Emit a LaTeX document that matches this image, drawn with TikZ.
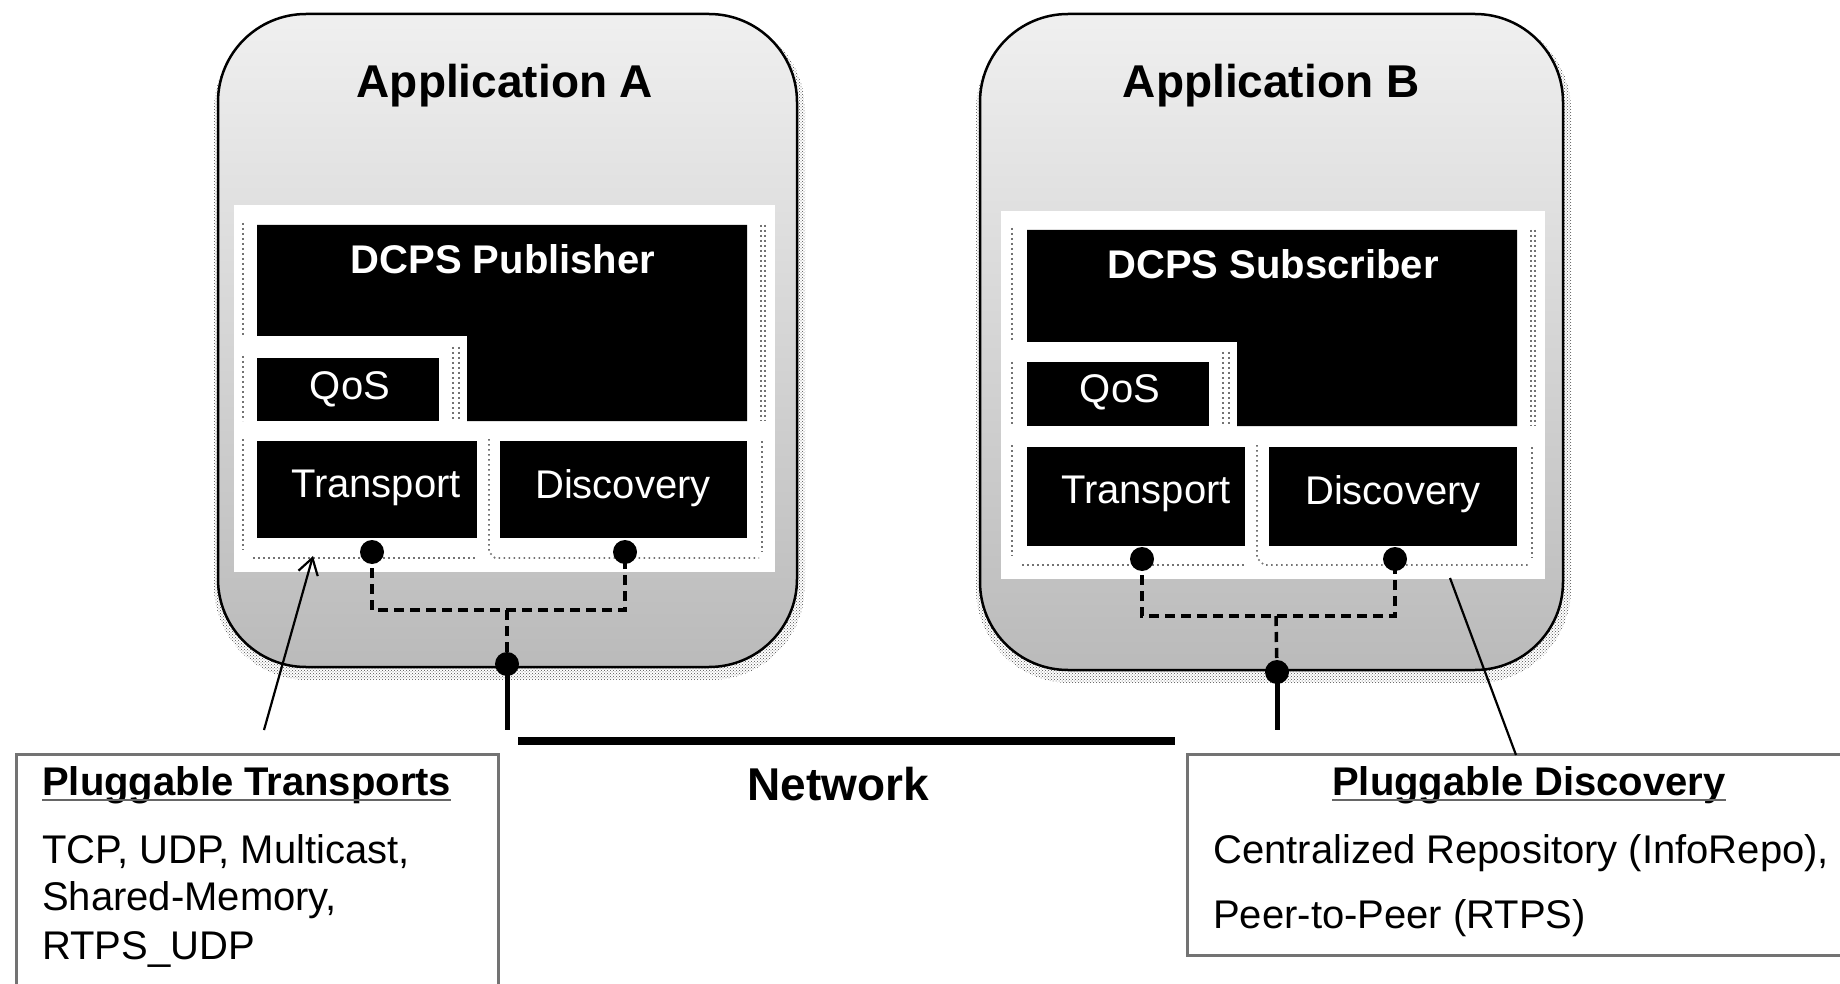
\documentclass[tikz,border=0pt]{standalone}
\usepackage{fontspec}
\setmainfont{Liberation Sans}
\usetikzlibrary{arrows.meta,patterns,calc}
\begin{document}
\begin{tikzpicture}[x=1pt,y=-1pt,
  appbox/.style={draw=black, line width=2.5pt, rounded corners=88pt, top color=black!6, bottom color=black!27},
  shadowbox/.style={rounded corners=94pt, pattern=crosshatch dots, pattern color=black!70},
  panel/.style={fill=white},
  blk/.style={fill=black},
  apptitle/.style={font=\bfseries\fontsize{46}{52}\selectfont, inner sep=0pt},
  wbold/.style={text=white, font=\bfseries\fontsize{40}{48}\selectfont, inner sep=0pt},
  wtxt/.style={text=white, font=\fontsize{40}{48}\selectfont, inner sep=0pt},
  btxt/.style={font=\fontsize{40}{48}\selectfont, inner sep=0pt, anchor=base west},
  bhead/.style={font=\bfseries\fontsize{40}{48}\selectfont, inner sep=0pt, anchor=base},
  dotn/.style={circle, fill=black, inner sep=0pt, minimum size=24pt},
  dsh/.style={line width=3.5pt, dash pattern=on 10pt off 6pt},
  dotl/.style={draw=black!55, line width=1.6pt, dash pattern=on 1.6pt off 3.4pt},
  infobox/.style={draw=black!55, line width=3pt},
  link/.style={line width=2.2pt},
  netv/.style={line width=5pt},
  net/.style={line width=8pt}
]
\useasboundingbox (0,0) rectangle (1840,984);

% ---------- Application A ----------
\fill[shadowbox] (214,16) rectangle (805,680);
\path[appbox] (218,14) rectangle (797,667);
\node[apptitle] (tA) at (505,86) {Application A};
\fill[panel] (234,205) rectangle (775,572);
% dotted outlines
\draw[dotl] (243,223) -- (243,336);
\draw[dotl] (243,356) -- (243,421);
\draw[dotl] (243,439) -- (243,550);
\draw[dotl] (253,558) -- (477,558);
\draw[dotl] (489,439) -- (489,552) -- (495,558) -- (759,558);
\draw[dotl] (761,225) -- (761,421);
\draw[dotl] (765,225) -- (765,421);
\draw[dotl] (762,441) -- (762,552);
\draw[dotl] (453,347) -- (453,421);
\draw[dotl] (459,347) -- (459,421);
% black blocks
\fill[blk] (257,225) -- (747,225) -- (747,421) -- (467,421) -- (467,336) -- (257,336) -- cycle;
\fill[blk] (257,358) rectangle (439,421);
\fill[blk] (257,441) rectangle (477,538);
\fill[blk] (500,441) rectangle (747,538);
\node[wbold] (pubA) at (503,259) {DCPS Publisher};
\node[wtxt] (qosA) at (350,389) {QoS};
\node[wtxt] (trA) at (376,488) {Transport};
\node[wtxt] (diA) at (623,488) {Discovery};
% connectors
\node[dotn] (dtA) at (372,552) {};
\node[dotn] (ddA) at (625,552) {};
\node[dotn] (dnA) at (507,664) {};
\coordinate (jA) at (507,610);
\draw[dsh] (dtA.center) |- (jA) -| (ddA.center);
\draw[dsh] (jA) -- (dnA.center);

% ---------- Application B ----------
\fill[shadowbox] (976,16) rectangle (1571,683);
\path[appbox] (980,14) rectangle (1563,670);
\node[apptitle] (tB) at (1271,86) {Application B};
\fill[panel] (1001,211) rectangle (1545,579);
\draw[dotl] (1012,228) -- (1012,342);
\draw[dotl] (1012,362) -- (1012,426);
\draw[dotl] (1012,445) -- (1012,556);
\draw[dotl] (1022,565) -- (1245,565);
\draw[dotl] (1257,445) -- (1257,558) -- (1264,565) -- (1530,565);
\draw[dotl] (1531,230) -- (1531,426);
\draw[dotl] (1535,230) -- (1535,426);
\draw[dotl] (1532,447) -- (1532,558);
\draw[dotl] (1223,352) -- (1223,426);
\draw[dotl] (1229,352) -- (1229,426);
\fill[blk] (1027,230) -- (1517,230) -- (1517,426) -- (1237,426) -- (1237,342) -- (1027,342) -- cycle;
\fill[blk] (1027,362) rectangle (1209,426);
\fill[blk] (1027,447) rectangle (1245,546);
\fill[blk] (1269,447) rectangle (1517,546);
\node[wbold] (subB) at (1273,264) {DCPS Subscriber};
\node[wtxt] (qosB) at (1120,392) {QoS};
\node[wtxt] (trB) at (1146,494) {Transport};
\node[wtxt] (diB) at (1393,494) {Discovery};
\node[dotn] (dtB) at (1142,559) {};
\node[dotn] (ddB) at (1395,559) {};
\node[dotn] (dnB) at (1277,672) {};
\coordinate (jB) at (1276,616);
\draw[dsh] (dtB.center) |- (jB) -| (ddB.center);
\draw[dsh] (jB) -- (dnB.center);

% ---------- Network ----------
\coordinate (nA) at (507,730);
\coordinate (nB) at (1277,730);
\draw[netv] (dnA.center) -- (nA);
\draw[netv] (dnB.center) -- (nB);
\coordinate (netL) at (518,741);
\coordinate (netR) at (1175,741);
\draw[net] (netL) -- (netR);
\node[font=\bfseries\fontsize{46}{52}\selectfont, inner sep=0pt] (netT) at (838,784) {Network};

% ---------- Pluggable Transports ----------
\node[infobox, minimum width=482pt, minimum height=240pt, inner sep=0pt, anchor=north west] (ptbox) at (15,753) {};
\node[bhead, anchor=base west] (pth) at (42,795) {Pluggable Transports};
\draw[line width=2.5pt, black!60] ($(pth.base west)+(0,5)$) -- ($(pth.base east)+(0,5)$);
\node[btxt] (pt1) at (42,863) {TCP, UDP, Multicast,};
\node[btxt] (pt2) at (42,910) {Shared-Memory,};
\node[btxt] (pt3) at (42,959) {RTPS\_UDP};
\coordinate (ptA) at (264,730);
\coordinate (ptT) at (313,556);
\draw[link, -{Straight Barb[length=16pt, width=20pt, line width=2.2pt]}] (ptA) -- (ptT);

% ---------- Pluggable Discovery ----------
\node[infobox, minimum width=700pt, minimum height=201pt, inner sep=0pt, anchor=north west] (pdbox) at (1186,753) {};
\node[bhead] (pdh) at (1529,795) {Pluggable Discovery};
\draw[line width=2.5pt, black!60] ($(pdh.base west)+(0,5)$) -- ($(pdh.base east)+(0,5)$);
\node[btxt] (pd1) at (1213,863) {Centralized Repository (InfoRepo),};
\node[btxt] (pd2) at (1213,928) {Peer-to-Peer (RTPS)};
\coordinate (pdB) at (1450,578);
\coordinate (pdT) at (1516,755);
\draw[link] (pdB) -- (pdT);
\end{tikzpicture}
\end{document}
